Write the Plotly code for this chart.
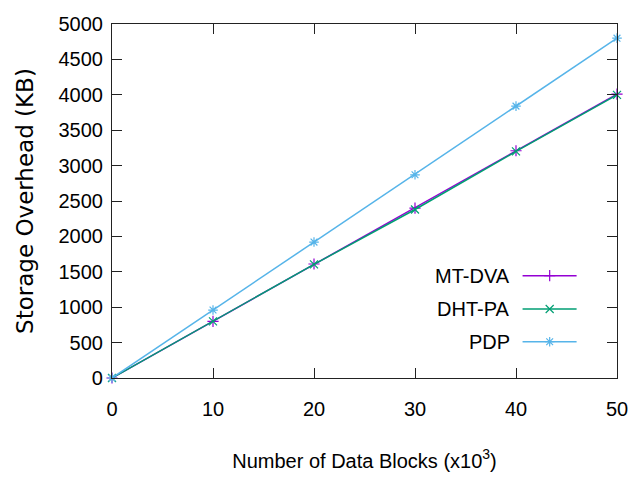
import plotly.graph_objects as go

# ---- data ----
blocks = [0, 10, 20, 30, 40, 50]           # x10^3 data blocks
mt_dva = [0, 800, 1610, 2400, 3210, 4010]
dht_pa = [0, 800, 1605, 2380, 3200, 4000]
pdp = [0, 960, 1920, 2870, 3840, 4800]
series_names = ["MT-DVA", "DHT-PA", "PDP"]
x_ticks = [0, 10, 20, 30, 40, 50]
y_ticks = [0, 500, 1000, 1500, 2000, 2500, 3000, 3500, 4000, 4500, 5000]

# ---- style ----
colors = ["#9400d3", "#009e73", "#56b4e9"]
symbols = ["cross-thin", "x-thin", "asterisk"]
FONT = "Liberation Sans, Arial, sans-serif"
W, H = 633, 478
ML, MR, MT, MB = 112, 16, 24, 100

fig = go.Figure()
for name, ys, c, s in zip(series_names, [mt_dva, dht_pa, pdp], colors, symbols):
    fig.add_trace(go.Scatter(
        x=blocks, y=ys, mode="lines+markers", name=name,
        line=dict(color=c, width=1.5),
        marker=dict(symbol=s, size=8, color=c, line=dict(color=c, width=1.2)),
        cliponaxis=False, showlegend=False,
    ))

# ---- gnuplot-style key (text right, sample on the right) on a hidden overlay axis ----
key_y = [0.289, 0.195, 0.1025]
key_x0, key_x1, key_xm, key_tx = 0.813, 0.920, 0.8667, 0.792
for name, c, s, ky in zip(series_names, colors, symbols, key_y):
    fig.add_trace(go.Scatter(
        x=[key_x0, key_x1], y=[ky, ky], mode="lines", xaxis="x2", yaxis="y2",
        line=dict(color=c, width=1.5), showlegend=False, hoverinfo="skip"))
    fig.add_trace(go.Scatter(
        x=[key_xm], y=[ky], mode="markers", xaxis="x2", yaxis="y2",
        marker=dict(symbol=s, size=8, color=c, line=dict(color=c, width=1.2)),
        showlegend=False, hoverinfo="skip"))
    fig.add_annotation(x=key_tx, y=ky, xref="x2", yref="y2", text=name,
                       showarrow=False, xanchor="right", yanchor="middle",
                       font=dict(family=FONT, size=20, color="black"))

axis_common = dict(showline=True, mirror="allticks", linecolor="#222222", linewidth=1.2,
                   ticks="inside", ticklen=10, tickwidth=1.2, tickcolor="#222222",
                   showgrid=False, zeroline=False,
                   tickfont=dict(family=FONT, size=20, color="black"))

fig.update_layout(
    width=W, height=H,
    margin=dict(l=ML, r=MR, t=MT, b=MB, autoexpand=False),
    paper_bgcolor="white", plot_bgcolor="white",
    showlegend=False,
    xaxis=dict(range=[0, 50], tickvals=x_ticks, ticklabelstandoff=13,
               title=dict(text="Number of Data Blocks (x10<sup>3</sup>)", standoff=34,
                          font=dict(family=FONT, size=20, color="black")),
               **axis_common),
    yaxis=dict(range=[0, 5000], tickvals=y_ticks, ticklabelstandoff=4,
               title=dict(text="Storage Overhead (KB)", standoff=18,
                          font=dict(family="DejaVu Sans, sans-serif", size=23, color="black")),
               **axis_common),
    xaxis2=dict(range=[0, 1], overlaying="x", visible=False, anchor="y2"),
    yaxis2=dict(range=[0, 1], overlaying="y", visible=False, anchor="x2"),
)

fig.write_html("out.html")
